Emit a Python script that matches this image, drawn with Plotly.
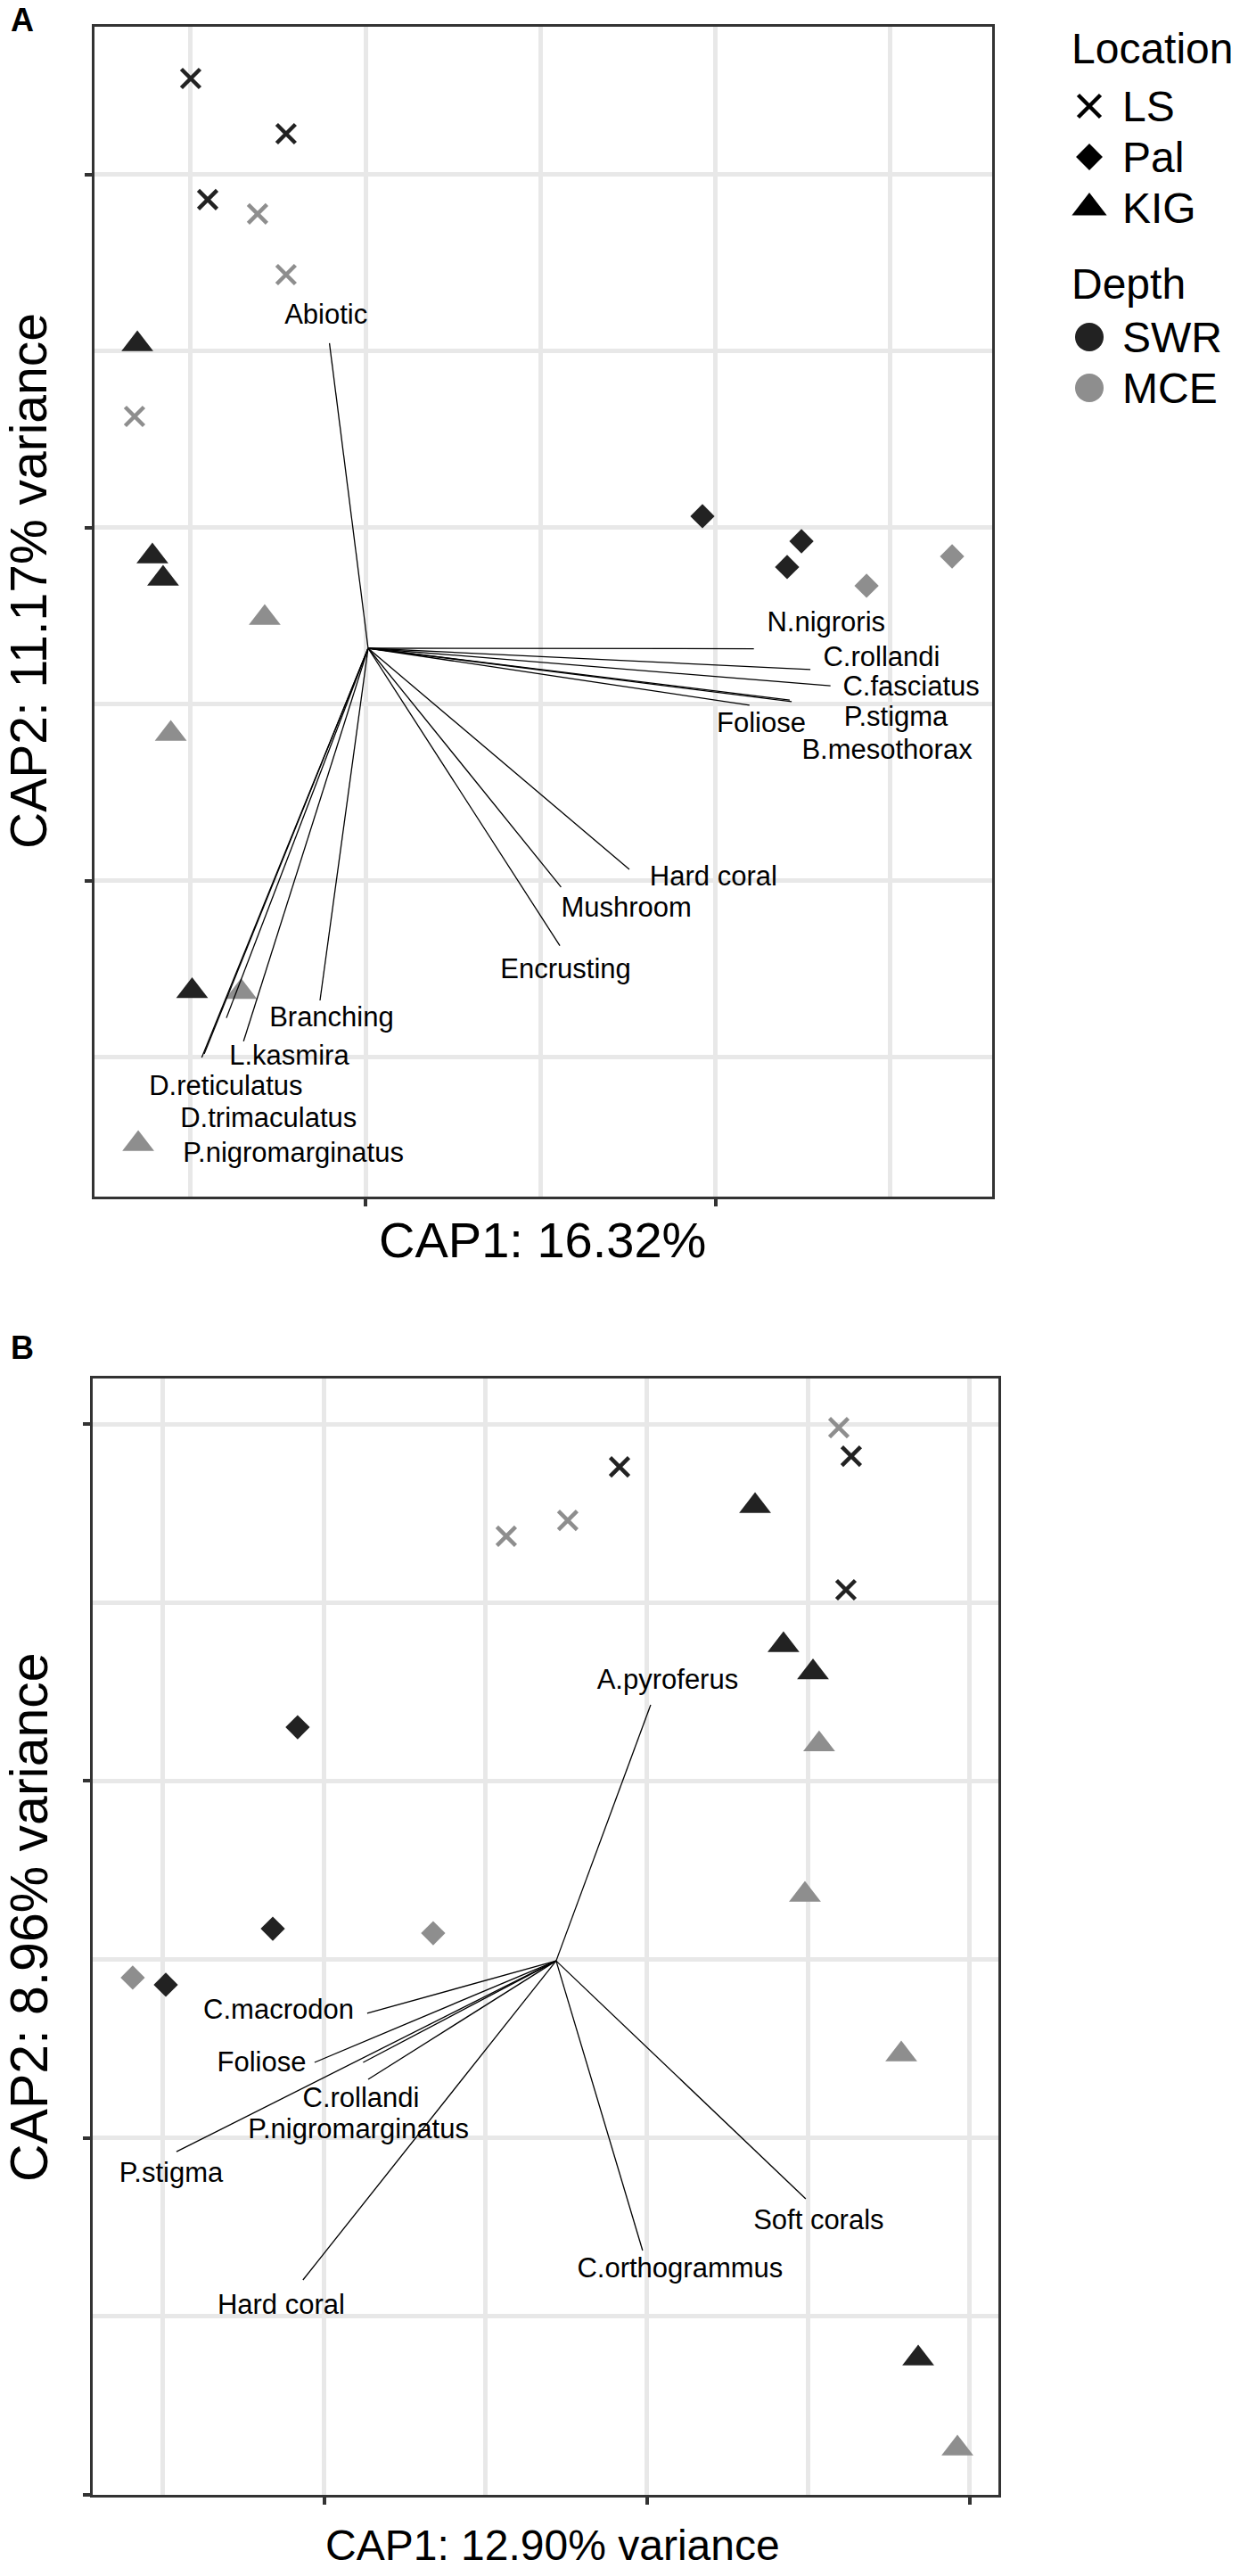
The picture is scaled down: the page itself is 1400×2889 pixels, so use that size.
import plotly.graph_objects as go

# ---------------- Panel A : CAP scores (grid units) ----------------
A_LS_SWR_x = [-0.999, -0.454, -0.902]
A_LS_SWR_y = [4.545, 4.232, 3.859]
A_LS_MCE_x = [-0.617, -0.454, -1.320]
A_LS_MCE_y = [3.778, 3.434, 2.631]
A_Pal_SWR_x = [1.926, 2.492, 2.410]
A_Pal_SWR_y = [2.066, 1.924, 1.778]
A_Pal_MCE_x = [2.864, 3.353]
A_Pal_MCE_y = [1.672, 1.838]
A_KIG_SWR_x = [-1.304, -1.218, -1.157, -0.991]
A_KIG_SWR_y = [3.040, 1.838, 1.712, -0.624]
A_KIG_MCE_x = [-0.576, -1.113, -0.711, -1.299]
A_KIG_MCE_y = [1.490, 0.833, -0.629, -1.490]

A_origin = (0.015, 1.318)
A_vec_names = ["Abiotic", "N.nigroris", "C.rollandi", "C.fasciatus", "P.stigma", "Foliose",
               "B.mesothorax", "Hard coral", "Mushroom", "Encrusting", "Branching", "L.kasmira",
               "D.reticulatus", "D.trimaculatus", "P.nigromarginatus"]
A_vec_x = [-0.206, 2.220, 2.543, 2.658, 2.425, 2.195, 2.436, 1.508, 1.118, 1.111, -0.260, -0.697,
           -0.936, -0.795, -0.922]
A_vec_y = [3.046, 1.315, 1.197, 1.105, 1.024, 0.995, 1.015, 0.066, -0.035, -0.367, -0.677, -0.908,
           -1.000, -0.776, -0.980]
A_lab_x = [-0.226, 2.633, 2.950, 3.119, 3.032, 2.262, 2.981, 1.989, 1.491, 1.144, -0.194, -0.436,
           -0.798, -0.554, -0.412]
A_lab_y = [3.193, 1.452, 1.256, 1.090, 0.916, 0.882, 0.731, 0.016, -0.165, -0.512, -0.785, -1.000,
           -1.172, -1.357, -1.551]

# ---------------- Panel B ----------------
B_LS_SWR_x = [1.829, 3.265, 3.232]
B_LS_SWR_y = [5.760, 5.820, 5.071]
B_LS_MCE_x = [1.127, 1.508, 3.188]
B_LS_MCE_y = [5.371, 5.460, 5.980]
B_Pal_SWR_x = [-0.166, -0.320, -0.983]
B_Pal_SWR_y = [4.301, 3.172, 2.858]
B_Pal_MCE_x = [0.674, -1.188]
B_Pal_MCE_y = [3.147, 2.898]
B_KIG_SWR_x = [2.669, 2.845, 3.028, 3.680]
B_KIG_SWR_y = [5.540, 4.761, 4.609, 0.764]
B_KIG_MCE_x = [3.066, 2.978, 3.575, 3.923]
B_KIG_MCE_y = [4.206, 3.362, 2.468, 0.260]

B_origin = (1.436, 2.992)
B_vec_names = ["A.pyroferus", "C.macrodon", "Foliose", "C.rollandi", "P.nigromarginatus",
               "P.stigma", "Hard coral", "C.orthogrammus", "Soft corals"]
B_vec_x = [2.022, 0.265, -0.061, 0.240, 0.271, -0.917, -0.133, 1.972, 2.983]
B_vec_y = [4.426, 2.698, 2.423, 2.423, 2.328, 1.923, 1.204, 1.369, 1.659]
B_lab_x = [2.127, -0.284, -0.389, 0.227, 0.211, -0.950, -0.268, 2.204, 3.063]
B_lab_y = [4.556, 2.708, 2.413, 2.211, 2.039, 1.793, 1.051, 1.259, 1.526]

# legend categories
locations = ["LS", "Pal", "KIG"]
depths = ["SWR", "MCE"]

# ---------------- styles ----------------
FONT = "Liberation Sans, Arial, Helvetica, sans-serif"
DARK = "#222222"
GRAY = "#8E8E8E"
GRID = "#E8E8E8"
AXC = "#333333"
W, H = 1400, 2889
SYM = {"LS": "x-thin", "Pal": "diamond", "KIG": "triangle-up"}
SIZE = {"LS": 21, "Pal": 21, "KIG": 31}
COL = {"SWR": DARK, "MCE": GRAY}

fig = go.Figure()


def add_points(xs, ys, loc, dep, xa, ya):
    fig.add_trace(go.Scatter(
        x=xs, y=ys, mode="markers", xaxis=xa, yaxis=ya, showlegend=False,
        marker=dict(symbol=SYM[loc], size=SIZE[loc], color=COL[dep],
                    line=dict(width=4.5 if loc == "LS" else 0, color=COL[dep]))))


def add_vectors(origin, vx, vy, lx, ly, names, xa, ya, fsize):
    xs, ys = [], []
    for ex, ey in zip(vx, vy):
        xs += [origin[0], ex, None]
        ys += [origin[1], ey, None]
    fig.add_trace(go.Scatter(x=xs, y=ys, mode="lines", xaxis=xa, yaxis=ya, showlegend=False,
                             line=dict(color="black", width=1.3)))
    fig.add_trace(go.Scatter(x=lx, y=ly, text=names, mode="text", xaxis=xa, yaxis=ya,
                             showlegend=False, cliponaxis=False, textposition="middle center",
                             textfont=dict(family=FONT, size=fsize, color="black")))


# Panel A
add_points(A_LS_SWR_x, A_LS_SWR_y, "LS", "SWR", "x", "y")
add_points(A_LS_MCE_x, A_LS_MCE_y, "LS", "MCE", "x", "y")
add_points(A_Pal_SWR_x, A_Pal_SWR_y, "Pal", "SWR", "x", "y")
add_points(A_Pal_MCE_x, A_Pal_MCE_y, "Pal", "MCE", "x", "y")
add_points(A_KIG_SWR_x, A_KIG_SWR_y, "KIG", "SWR", "x", "y")
add_points(A_KIG_MCE_x, A_KIG_MCE_y, "KIG", "MCE", "x", "y")
add_vectors(A_origin, A_vec_x, A_vec_y, A_lab_x, A_lab_y, A_vec_names, "x", "y", 31)

# Panel B
add_points(B_LS_SWR_x, B_LS_SWR_y, "LS", "SWR", "x2", "y2")
add_points(B_LS_MCE_x, B_LS_MCE_y, "LS", "MCE", "x2", "y2")
add_points(B_Pal_SWR_x, B_Pal_SWR_y, "Pal", "SWR", "x2", "y2")
add_points(B_Pal_MCE_x, B_Pal_MCE_y, "Pal", "MCE", "x2", "y2")
add_points(B_KIG_SWR_x, B_KIG_SWR_y, "KIG", "SWR", "x2", "y2")
add_points(B_KIG_MCE_x, B_KIG_MCE_y, "KIG", "MCE", "x2", "y2")
add_vectors(B_origin, B_vec_x, B_vec_y, B_lab_x, B_lab_y, B_vec_names, "x2", "y2", 31)

# ---------------- custom legend (own axes, pixel-like layout units) ----------------
LEG_SYM_X, LEG_TXT_X, LEG_TITLE_X = 1222, 1258, 1201
loc_rows = [119, 176, 233]
dep_rows = [378, 435]
leg_sizes = {"LS": 25, "Pal": 23, "KIG": 34}
for loc, yy in zip(locations, loc_rows):
    fig.add_trace(go.Scatter(
        x=[LEG_SYM_X], y=[yy], mode="markers", xaxis="x3", yaxis="y3", showlegend=False,
        marker=dict(symbol=SYM[loc], size=leg_sizes[loc], color="black",
                    line=dict(width=4.5 if loc == "LS" else 0, color="black"))))
for dep, yy in zip(depths, dep_rows):
    fig.add_trace(go.Scatter(
        x=[LEG_SYM_X], y=[yy], mode="markers", xaxis="x3", yaxis="y3", showlegend=False,
        marker=dict(symbol="circle", size=32, color=COL[dep], line=dict(width=0))))

annotations = []
LEG_FS = 48
for txt, yy, xx in ([("Location", 54, LEG_TITLE_X), ("Depth", 318, LEG_TITLE_X)]
                    + [(l, y, LEG_TXT_X) for l, y in zip(locations, loc_rows)]
                    + [(d, y, LEG_TXT_X) for d, y in zip(depths, dep_rows)]):
    annotations.append(dict(text=txt, x=xx, y=yy, xref="x3", yref="y3", xanchor="left",
                            yanchor="middle", showarrow=False, borderpad=0,
                            font=dict(family=FONT, size=LEG_FS, color="black")))


def pa(px, py, text, size, angle=0, bold=False):
    annotations.append(dict(text=f"<b>{text}</b>" if bold else text, x=px / W, y=1 - py / H,
                            xref="paper", yref="paper", xanchor="center", yanchor="middle",
                            showarrow=False, textangle=angle, borderpad=0,
                            font=dict(family=FONT, size=size, color="black")))


pa(25, 22, "A", 36, bold=True)
pa(25, 1512, "B", 36, bold=True)
pa(608, 1390, "CAP1: 16.32%", 56)
pa(32, 652, "CAP2: 11.17% variance", 57, angle=-90)
pa(620, 2854, "CAP1: 12.90% variance", 48)
pa(33, 2150, "CAP2: 8.96% variance", 59, angle=-90)


def axis_style(domain, rng, dtick, anchor):
    return dict(domain=domain, range=rng, anchor=anchor, tickmode="linear", tick0=0, dtick=dtick,
                showticklabels=False, ticks="outside", ticklen=8, tickwidth=4, tickcolor=AXC,
                showgrid=True, gridcolor=GRID, gridwidth=5, zeroline=False,
                showline=True, mirror=True, linecolor=AXC, linewidth=2.5,
                minor=dict(tickmode="linear", tick0=0, dtick=dtick / 2, showgrid=True,
                           gridcolor=GRID, gridwidth=5, ticks=""))


fig.update_layout(
    width=W, height=H, margin=dict(l=0, r=0, t=0, b=0),
    paper_bgcolor="white", plot_bgcolor="white", showlegend=False,
    xaxis=axis_style([106 / W, 1113 / W], [-1.549, 3.582], 2, "y"),
    yaxis=axis_style([1 - 1342 / H, 1 - 30 / H], [-1.788, 4.838], 2, "x"),
    xaxis2=axis_style([104 / W, 1120 / W], [-1.436, 4.177], 2, "y2"),
    yaxis2=axis_style([1 - 2798 / H, 1 - 1546 / H], [0, 6.255], 2, "x2"),
    xaxis3=dict(domain=[1150 / W, 1.0], range=[1150, 1400], visible=False, anchor="y3",
                fixedrange=True),
    yaxis3=dict(domain=[1 - 480 / H, 1.0], range=[480, 0], visible=False, anchor="x3",
                fixedrange=True),
    annotations=annotations,
)

fig.write_html("out.html", config={"displayModeBar": False},
               post_script="document.body.style.margin='0';"
                           "document.body.style.overflow='hidden';")
